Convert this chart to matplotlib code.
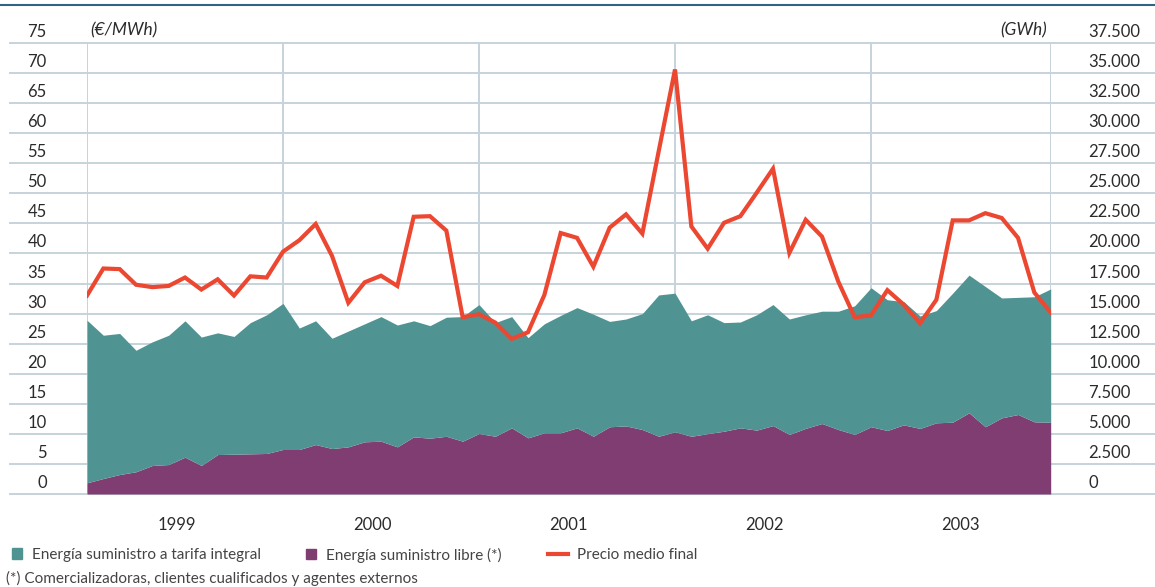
import matplotlib
matplotlib.use("Agg")
import matplotlib.pyplot as plt
from matplotlib.patches import Patch
from matplotlib.lines import Line2D
from matplotlib.ticker import FuncFormatter, FixedLocator
from matplotlib.transforms import ScaledTranslation
import numpy as np

# ---------------- data (monthly, Jan 1999 - Dec 2003) ----------------
years = ["1999", "2000", "2001", "2002", "2003"]

# Energía suministro libre (GWh)
libre = [930, 1290, 1620, 1850, 2370, 2450, 3060, 2370, 3280, 3310, 3340, 3370,
         3700, 3700, 4110, 3780, 3920, 4340, 4390, 3920, 4750, 4640, 4800, 4390,
         5030, 4800, 5500, 4670, 5090, 5090, 5500, 4800, 5590, 5660, 5360, 4800,
         5170, 4800, 5020, 5220, 5500, 5310, 5690, 4950, 5460, 5860, 5360, 4950,
         5590, 5280, 5750, 5450, 5920, 5970, 6750, 5590, 6330, 6610, 6000, 5970]

# Energía suministro a tarifa integral (GWh)
tarifa = [13520, 11910, 11730, 10100, 10280, 10750, 11340, 10680, 10120, 9790, 10910, 11530,
          12150, 10100, 10290, 9170, 9630, 9810, 10360, 10130, 9650, 9360, 9900, 10360,
          10720, 9450, 9250, 8330, 9060, 9760, 10000, 10150, 8760, 8890, 9640, 11750,
          11530, 9600, 9880, 9030, 8800, 9590, 10060, 9600, 9440, 9340, 9840, 10700,
          11560, 10870, 10250, 9350, 9330, 10730, 11450, 11660, 9970, 9740, 10400, 11080]

# Precio medio final (€/MWh)
precio = [33.0, 37.5, 37.4, 34.8, 34.4, 34.6, 36.0, 34.0, 35.7, 33.0, 36.2, 36.0,
          40.3, 42.2, 44.9, 39.6, 31.8, 35.2, 36.3, 34.6, 46.1, 46.2, 43.8, 29.4,
          29.9, 28.5, 25.8, 26.9, 33.1, 43.4, 42.6, 37.8, 44.3, 46.5, 43.3, 57.0,
          70.6, 44.5, 40.8, 45.1, 46.2, 50.1, 54.1, 40.1, 45.6, 42.8, 35.3, 29.4,
          29.7, 33.9, 31.5, 28.4, 32.3, 45.5, 45.5, 46.7, 45.9, 42.6, 33.5, 30.2]

left_ticks = [0, 5, 10, 15, 20, 25, 30, 35, 40, 45, 50, 55, 60, 65, 70, 75]
right_ticks = [0, 2500, 5000, 7500, 10000, 12500, 15000, 17500, 20000,
               22500, 25000, 27500, 30000, 32500, 35000, 37500]

legend_labels = ["Energía suministro a tarifa integral",
                 "Energía suministro libre (*)",
                 "Precio medio final"]
footnote = "(*) Comercializadoras, clientes cualificados y agentes externos"

# ---------------- style ----------------
TEAL = "#509393"
PURPLE = "#7f3d71"
RED = "#ec4731"
GRID = "#c6d3dc"
TXT = "#2b2b2b"
plt.rcParams["font.family"] = ["Lato", "DejaVu Sans"]

W, H = 1155, 587
fig = plt.figure(figsize=(W / 100, H / 100), dpi=100)
x0, x1 = 87, 1050.7
ybot, ytop = 494, 43
ax = fig.add_axes([x0 / W, 1 - ybot / H, (x1 - x0) / W, (ybot - ytop) / H])
ax2 = ax.twinx()

n = len(precio)
x = np.arange(n)
lib = np.array(libre)
tot = lib + np.array(tarifa)

ax.set_xlim(0, n - 1)
ax.set_ylim(0, 37500)
ax2.set_ylim(0, 75)

# horizontal gridlines, extended beyond the plot area
ext_l = (10 - x0) / (x1 - x0)
ext_r = (1155 - x0) / (x1 - x0)
for v in right_ticks:
    ax.axhline(v, xmin=ext_l, xmax=ext_r, color=GRID, lw=1.4, clip_on=False, zorder=0)
for k in list(range(0, n, 12)) + [n - 1]:
    ax.axvline(k, color=GRID, lw=1.4, zorder=0)

ax.fill_between(x, 0, lib, color=PURPLE, lw=0, zorder=2)
ax.fill_between(x, lib, tot, color=TEAL, lw=0, zorder=2)
ax2.plot(x, precio, color=RED, lw=3.0, solid_joinstyle="miter", zorder=3)

for a in (ax, ax2):
    for s in a.spines.values():
        s.set_visible(False)
    a.tick_params(length=0)

up = ScaledTranslation(0, 3 / 100, fig.dpi_scale_trans)

# right axis labels (GWh)
ax.yaxis.tick_right()
ax.yaxis.set_major_locator(FixedLocator(right_ticks))
ax.yaxis.set_major_formatter(FuncFormatter(lambda v, p: f"{int(v):,}".replace(",", ".")))
ax.tick_params(axis="y", pad=27, labelsize=12, labelcolor=TXT)
for t in ax.get_yticklabels():
    t.set_verticalalignment("bottom")
    t.set_transform(t.get_transform() + up)

# left axis labels (€/MWh)
ax2.yaxis.tick_left()
ax2.yaxis.set_major_locator(FixedLocator(left_ticks))
ax2.tick_params(axis="y", pad=29, labelsize=12, labelcolor=TXT)
for t in ax2.get_yticklabels():
    t.set_verticalalignment("bottom")
    t.set_transform(t.get_transform() + up)

# year labels
ax.set_xticks([5.5 + 12 * i for i in range(len(years))])
ax.set_xticklabels(years)
ax.tick_params(axis="x", pad=16.5, labelsize=12, labelcolor=TXT)

# units
fig.text(90 / W, 1 - 30 / H, "(€/MWh)", fontsize=12.5, style="italic", color=TXT, va="center", ha="left")
fig.text(1047 / W, 1 - 30 / H, "(GWh)", fontsize=12.5, style="italic", color=TXT, va="center", ha="right")

# top rule
fig.add_artist(Line2D([0, 1], [1 - 5 / H, 1 - 5 / H], color="#2f6486", lw=1.5))

# legends
FS = 11
handles = [Patch(color=TEAL), Patch(color=PURPLE), Line2D([], [], color=RED, lw=3.0)]
positions = [12, 306, 548]
hl = [0.68, 0.68, 1.3]
for h, lab, px, L in zip(handles, legend_labels, positions, hl):
    lg = fig.legend([h], [lab], loc="center left", bbox_to_anchor=(px / W, 1 - 555 / H),
                    frameon=False, fontsize=FS, handlelength=L,
                    handleheight=0.68, handletextpad=0.6, borderpad=0, borderaxespad=0)
    for t in lg.get_texts():
        t.set_color("#444444")

fig.text(6 / W, 1 - 578 / H, footnote, fontsize=FS, color="#444444", va="center", ha="left")

fig.savefig("out.png", dpi=100)
